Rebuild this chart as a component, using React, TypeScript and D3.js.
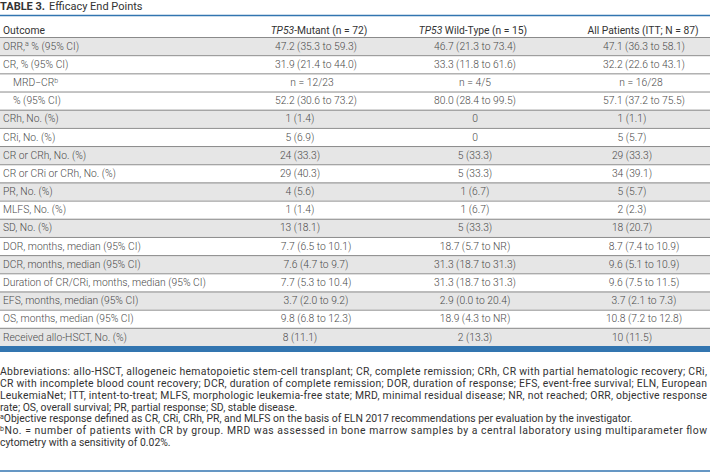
import React from "react";
import * as d3 from "d3";

// ---------- data ----------
const titleBold = "TABLE 3.";
const titleText = "Efficacy End Points";

const headerLabels = ["Outcome", "^iTP53^i-Mutant (n = 72)", "^iTP53^i Wild-Type (n = 15)", "All Patients (ITT; N = 87)"];

const outcomes = [
  "ORR,^a % (95% CI)",
  "CR, % (95% CI)",
  "MRD\u2212CR^b",
  "% (95% CI)",
  "CRh, No. (%)",
  "CRi, No. (%)",
  "CR or CRh, No. (%)",
  "CR or CRi or CRh, No. (%)",
  "PR, No. (%)",
  "MLFS, No. (%)",
  "SD, No. (%)",
  "DOR, months, median (95% CI)",
  "DCR, months, median (95% CI)",
  "Duration of CR/CRi, months, median (95% CI)",
  "EFS, months, median (95% CI)",
  "OS, months, median (95% CI)",
  "Received allo-HSCT, No. (%)",
];
const indentLevel = [0, 0, 1, 1, 0, 0, 0, 0, 0, 0, 0, 0, 0, 0, 0, 0, 0];
const rowGroup = [0, 1, 1, 1, 2, 3, 4, 5, 6, 7, 8, 9, 10, 11, 12, 13, 14];

const mutant = [
  "47.2 (35.3 to 59.3)", "31.9 (21.4 to 44.0)", "n = 12/23", "52.2 (30.6 to 73.2)",
  "1 (1.4)", "5 (6.9)", "24 (33.3)", "29 (40.3)", "4 (5.6)", "1 (1.4)", "13 (18.1)",
  "7.7 (6.5 to 10.1)", "7.6 (4.7 to 9.7)", "7.7 (5.3 to 10.4)", "3.7 (2.0 to 9.2)", "9.8 (6.8 to 12.3)",
  "8 (11.1)",
];
const wildType = [
  "46.7 (21.3 to 73.4)", "33.3 (11.8 to 61.6)", "n = 4/5", "80.0 (28.4 to 99.5)",
  "0", "0", "5 (33.3)", "5 (33.3)", "1 (6.7)", "1 (6.7)", "5 (33.3)",
  "18.7 (5.7 to NR)", "31.3 (18.7 to 31.3)", "31.3 (18.7 to 31.3)", "2.9 (0.0 to 20.4)", "18.9 (4.3 to NR)",
  "2 (13.3)",
];
const allPatients = [
  "47.1 (36.3 to 58.1)", "32.2 (22.6 to 43.1)", "n = 16/28", "57.1 (37.2 to 75.5)",
  "1 (1.1)", "5 (5.7)", "29 (33.3)", "34 (39.1)", "5 (5.7)", "2 (2.3)", "18 (20.7)",
  "8.7 (7.4 to 10.9)", "9.6 (5.1 to 10.9)", "9.6 (7.5 to 11.5)", "3.7 (2.1 to 7.3)", "10.8 (7.2 to 12.8)",
  "10 (11.5)",
];

const footnoteParagraphs = [
  [
    "Abbreviations: allo-HSCT, allogeneic hematopoietic stem-cell transplant; CR, complete remission; CRh, CR with partial hematologic recovery; CRi,",
    "CR with incomplete blood count recovery; DCR, duration of complete remission; DOR, duration of response; EFS, event-free survival; ELN, European",
    "LeukemiaNet; ITT, intent-to-treat; MLFS, morphologic leukemia-free state; MRD, minimal residual disease; NR, not reached; ORR, objective response",
    "rate; OS, overall survival; PR, partial response; SD, stable disease.",
  ],
  [
    "^aObjective response defined as CR, CRi, CRh, PR, and MLFS on the basis of ELN 2017 recommendations per evaluation by the investigator.",
  ],
  [
    "^bNo. = number of patients with CR by group. MRD was assessed in bone marrow samples by a central laboratory using multiparameter flow",
    "cytometry with a sensitivity of 0.02%.",
  ],
];

// ---------- layout ----------
const W = 710;
const H = 475;
const BLUE = "#3275b0";
const FONT = "Roboto, 'Noto Sans', sans-serif";

const columns = [mutant, wildType, allPatients];
const colCenters = [
  { header: 319, ci: 316, count: 300, n: 312 },
  { header: 473, ci: 475, count: 475, n: 475 },
  { header: 643, ci: 644, count: 632, n: 641 },
];

function valueKind(v: string): "ci" | "count" | "n" {
  if (v.startsWith("n =")) return "n";
  if (v.includes(" to ")) return "ci";
  return "count";
}

// parse "^a" superscripts and "^i...^i" italics into tspans
function renderRich(s: string, supSize: number) {
  const parts: React.ReactNode[] = [];
  const re = /\^i(.*?)\^i|\^([a-z])/g;
  let last = 0;
  let m: RegExpExecArray | null;
  let k = 0;
  let pendingDy = 0;
  while ((m = re.exec(s)) !== null) {
    if (m.index > last) {
      parts.push(<tspan key={k++} dy={pendingDy || undefined}>{s.slice(last, m.index)}</tspan>);
      pendingDy = 0;
    }
    if (m[1] !== undefined) {
      parts.push(<tspan key={k++} fontStyle="italic" dy={pendingDy || undefined}>{m[1]}</tspan>);
      pendingDy = 0;
    } else {
      parts.push(
        <tspan key={k++} fontSize={supSize} dy={pendingDy - 3.5}>{m[2]}</tspan>
      );
      pendingDy = 3.5;
    }
    last = re.lastIndex;
  }
  if (last < s.length) {
    parts.push(<tspan key={k++} dy={pendingDy || undefined}>{s.slice(last)}</tspan>);
  }
  return parts;
}

export default function App() {
  const rowScale = d3
    .scaleBand<number>()
    .domain(d3.range(outcomes.length))
    .range([37, 346])
    .padding(0);
  const bh = rowScale.bandwidth();

  const footLines: { text: string; justify: boolean }[] = [];
  footnoteParagraphs.forEach((p) =>
    p.forEach((line, i) => footLines.push({ text: line, justify: i < p.length - 1 }))
  );
  const footScale = d3
    .scalePoint<number>()
    .domain(d3.range(footLines.length))
    .range([375, 446]);

  return (
    <svg
      width={W}
      height={H}
      style={{ position: "fixed", left: 0, top: 0, background: "#fff" }}
      fontFamily={FONT}
    >
      {/* title */}
      <text x={0} y={9.5} fontSize={11} fill="#333">
        <tspan fontWeight={700}>{titleBold}</tspan>
        <tspan dx={4}>{titleText}</tspan>
      </text>

      {/* top rule */}
      <line x1={0} x2={W} y1={15.5} y2={15.5} stroke={BLUE} strokeWidth={1.3} />

      {/* header */}
      <text x={3} y={34} fontSize={10.3} fill="#333">{headerLabels[0]}</text>
      {colCenters.map((c, j) => (
        <text key={j} x={c.header} y={34} fontSize={10.3} fill="#333" textAnchor="middle">
          {renderRich(headerLabels[j + 1], 7)}
        </text>
      ))}

      {/* row backgrounds */}
      {outcomes.map((_, i) => (
        <rect
          key={"bg" + i}
          x={0}
          y={rowScale(i)!}
          width={W}
          height={bh}
          fill={rowGroup[i] % 2 === 0 ? "#e6e6e6" : "#ffffff"}
        />
      ))}

      {/* separators */}
      {outcomes.map((_, i) => (
        <line
          key={"sep" + i}
          x1={0}
          x2={W}
          y1={rowScale(i)! + 0.5}
          y2={rowScale(i)! + 0.5}
          stroke="#8a8a8a"
          strokeWidth={1}
        />
      ))}

      {/* labels */}
      {outcomes.map((o, i) => (
        <text
          key={"lab" + i}
          x={3 + indentLevel[i] * 10}
          y={rowScale(i)! + bh / 2 + 3.6}
          fontSize={10.3}
          fontWeight={300}
          fill="#4a4a4a"
        >
          {renderRich(o, 7)}
        </text>
      ))}

      {/* values */}
      {columns.map((col, j) =>
        col.map((v, i) => (
          <text
            key={"v" + j + "-" + i}
            x={colCenters[j][valueKind(v)]}
            y={rowScale(i)! + bh / 2 + 3.6}
            fontSize={10.3}
            fontWeight={300}
            fill="#4a4a4a"
            textAnchor="middle"
          >
            {v}
          </text>
        ))
      )}

      {/* bottom bar */}
      <rect x={0} y={346} width={W} height={6} fill={BLUE} />

      {/* footnotes */}
      {footLines.map((l, i) => (
        <text
          key={"f" + i}
          x={0}
          y={footScale(i)!}
          fontSize={10.4}
          fill="#333"
          textLength={l.justify ? 707 : undefined}
          lengthAdjust={l.justify ? "spacing" : undefined}
        >
          {renderRich(l.text, 7)}
        </text>
      ))}

      <line x1={0} x2={W} y1={471} y2={471} stroke={BLUE} strokeWidth={1.3} />
    </svg>
  );
}
